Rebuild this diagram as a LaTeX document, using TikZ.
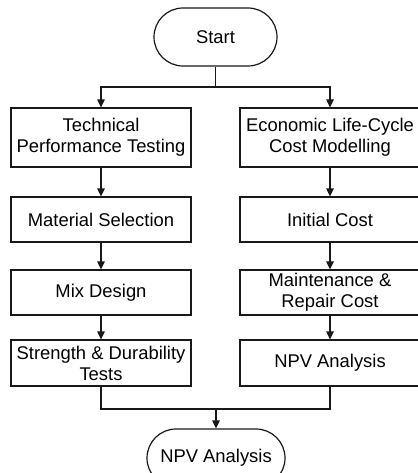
\documentclass[tikz,border=0pt]{standalone}
\usepackage{fontspec}
\setmainfont{Liberation Sans}
\usetikzlibrary{arrows.meta}
\begin{document}
\begin{tikzpicture}[x=1pt,y=-1pt,
  every node/.style={font=\fontsize{18.4}{21}\selectfont, text=black},
  line/.style={draw=black!90, line width=1.2pt},
  arr/.style={line, -{Triangle[length=8pt,width=7.5pt]}},
  stepbox/.style={line, rectangle, align=center, inner sep=0pt,
    minimum width=180pt},
  terminal/.style={line, rounded corners=29pt, align=center, inner sep=0pt,
    minimum height=58pt}]
  \useasboundingbox (0,0) rectangle (417,473);

  % terminals
  \node[terminal, minimum width=123pt] (start) at (215.5,37) {Start};
  \node[terminal, minimum width=138pt] (finish) at (216,458) {NPV Analysis};

  % technical branch
  \node[stepbox, minimum height=59pt] (t1) at (101,137.5) {Technical\\Performance Testing};
  \node[stepbox, minimum height=45pt] (t2) at (101,219.5) {Material Selection};
  \node[stepbox, minimum height=45pt] (t3) at (101,292.5) {Mix Design};
  \node[stepbox, minimum height=46pt] (t4) at (101,363) {Strength \& Durability\\Tests};

  % economic branch
  \node[stepbox, minimum height=59pt] (e1) at (330,137.5) {Economic Life-Cycle\\Cost Modelling};
  \node[stepbox, minimum height=45pt] (e2) at (330,219.5) {Initial Cost};
  \node[stepbox, minimum height=45pt] (e3) at (330,292.5) {Maintenance \&\\Repair Cost};
  \node[stepbox, minimum height=46pt] (e4) at (330,363) {NPV Analysis};

  % split and merge points
  \coordinate (split) at (215.5,87);
  \coordinate (merge) at (216,409);

  \draw[line] (start) -- (split);
  \draw[arr] (split) -| (t1);
  \draw[arr] (split) -| (e1);

  \draw[arr] (t1) -- (t2);
  \draw[arr] (t2) -- (t3);
  \draw[arr] (t3) -- (t4);
  \draw[arr] (e1) -- (e2);
  \draw[arr] (e2) -- (e3);
  \draw[arr] (e3) -- (e4);

  \draw[line] (t4) |- (merge);
  \draw[line] (e4) |- (merge);
  \draw[arr] (merge) -- (finish);
\end{tikzpicture}
\end{document}
